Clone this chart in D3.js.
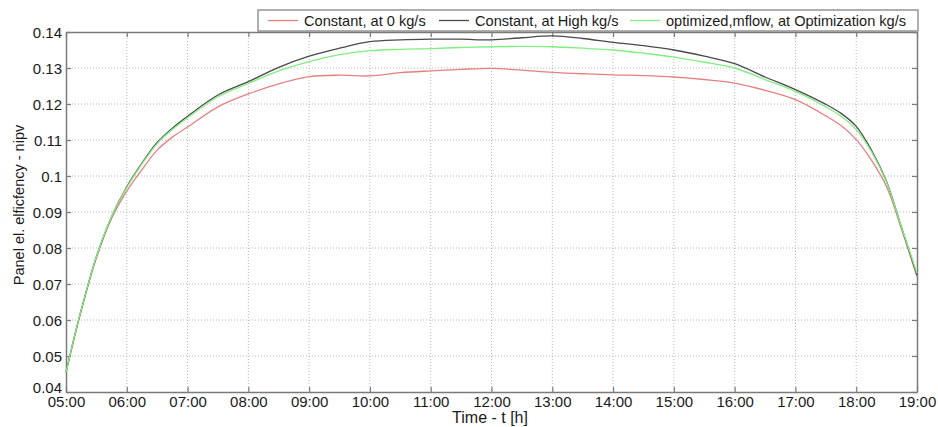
<!DOCTYPE html>
<html>
<head>
<meta charset="utf-8">
<script src="https://cdn.jsdelivr.net/npm/d3@7"></script>
<style>
  body { margin: 0; background: #fff; }
  text { font-family: "Liberation Sans", Arial, sans-serif; }
</style>
</head>
<body>
<div id="graph"></div>
<script>
// hours of the day
let hours = [5, 5.1, 5.25, 5.5, 5.75, 6, 6.25, 6.5, 6.75, 7, 7.5, 8, 8.5, 9, 9.5, 10, 10.5, 11, 11.5,
    12, 12.5, 13, 13.5, 14, 14.5, 15, 15.5, 16, 16.5, 17, 17.5, 17.75, 18, 18.25, 18.5, 18.75, 19];

let constZero = [0.0455, 0.0525, 0.0625, 0.0772, 0.0882, 0.0958, 0.1018, 0.1072, 0.1108, 0.1136, 0.1192, 0.1228,
    0.1256, 0.1276, 0.1280, 0.1278, 0.1287, 0.1292, 0.1296, 0.1299, 0.1294, 0.1288, 0.1284, 0.1281, 0.1279,
    0.1275, 0.1268, 0.1258, 0.1238, 0.1212, 0.1167, 0.1140, 0.1101, 0.1044, 0.0970, 0.0850, 0.0720];

let constHigh = [0.0455, 0.0527, 0.0628, 0.0776, 0.0887, 0.0970, 0.1036, 0.1093, 0.1133, 0.1166, 0.1225, 0.1262,
    0.1302, 0.1333, 0.1355, 0.1373, 0.1378, 0.1380, 0.1380, 0.1378, 0.1384, 0.1389, 0.1382, 0.1371, 0.1362,
    0.1350, 0.1333, 0.1312, 0.1275, 0.1240, 0.1199, 0.1174, 0.1138, 0.1072, 0.0984, 0.0855, 0.0725];

let optimized = [0.0455, 0.0527, 0.0628, 0.0776, 0.0887, 0.0968, 0.1034, 0.1090, 0.1129, 0.1162, 0.1220, 0.1257,
    0.1292, 0.1318, 0.1337, 0.1348, 0.1352, 0.1354, 0.1357, 0.1359, 0.1360, 0.1359, 0.1355, 0.1350, 0.1341,
    0.1330, 0.1316, 0.1300, 0.1268, 0.1235, 0.1192, 0.1166, 0.1129, 0.1068, 0.0982, 0.0855, 0.0730];

let xTicks = d3.range(5, 20);
let yTicks = [0.04, 0.05, 0.06, 0.07, 0.08, 0.09, 0.1, 0.11, 0.12, 0.13, 0.14];

let seriesNames = ["Constant, at 0 kg/s", "Constant, at High kg/s", "optimized,mflow, at Optimization kg/s"];
let seriesColors = ["#e58080", "#4a4a4a", "#80ee80"];
let series = [constZero, constHigh, optimized];

let width = 938, height = 427;
let plotLeft = 66, plotRight = 917, plotTop = 32, plotBottom = 392;

let svg = d3.select("#graph").append("svg")
    .attr("width", width)
    .attr("height", height);

let x = d3.scaleLinear().domain([5, 19]).range([plotLeft, plotRight]);
let y = d3.scaleLinear().domain([0.04, 0.14]).range([plotBottom, plotTop]);

function fmtHour(h) {
    return (h < 10 ? "0" : "") + h + ":00";
}

// grid
let grid = svg.append("g").attr("stroke", "#b8b8b8").attr("stroke-dasharray", "1,2");
grid.selectAll(".vg").data(xTicks.slice(1, -1)).enter().append("line")
    .attr("x1", d => x(d)).attr("x2", d => x(d))
    .attr("y1", plotTop).attr("y2", plotBottom);
grid.selectAll(".hg").data(yTicks.slice(1, -1)).enter().append("line")
    .attr("x1", plotLeft).attr("x2", plotRight)
    .attr("y1", d => y(d)).attr("y2", d => y(d));

// axes with inward ticks
let frameColor = "#7a7a7a";
let xAxis = svg.append("g").attr("transform", `translate(0,${plotBottom})`)
    .call(d3.axisBottom(x).tickValues(xTicks).tickFormat(fmtHour).tickSizeInner(-5).tickSizeOuter(0).tickPadding(6));
let xTop = svg.append("g").attr("transform", `translate(0,${plotTop})`)
    .call(d3.axisTop(x).tickValues(xTicks).tickFormat("").tickSizeInner(-5).tickSizeOuter(0));
let yAxis = svg.append("g").attr("transform", `translate(${plotLeft},0)`)
    .call(d3.axisLeft(y).tickValues(yTicks).tickFormat(d => String(+d.toFixed(2))).tickSizeInner(-5).tickSizeOuter(0).tickPadding(4));
let yRight = svg.append("g").attr("transform", `translate(${plotRight},0)`)
    .call(d3.axisRight(y).tickValues(yTicks).tickFormat("").tickSizeInner(-5).tickSizeOuter(0));

[xAxis, xTop, yAxis, yRight].forEach(a => {
    a.select(".domain").attr("stroke", frameColor).attr("stroke-width", 1.5);
    a.selectAll(".tick line").attr("stroke", frameColor).attr("stroke-width", 1.2);
    a.selectAll("text").attr("fill", "#1a1a1a").attr("font-size", 15)
        .attr("font-family", "Liberation Sans, Arial, sans-serif");
});
xAxis.selectAll("text").attr("dy", "0.62em");
yAxis.selectAll("text").attr("dy", "0.35em");
// the lowest y label sits a little higher, as in the original
yAxis.selectAll(".tick text").filter(d => d === 0.04).attr("dy", "0.05em");

// lines
let line = d3.line()
    .x((d, i) => x(hours[i]))
    .y(d => y(d))
    .curve(d3.curveCatmullRom.alpha(0.5));

svg.selectAll(".series").data(series).enter().append("path")
    .attr("class", "series")
    .attr("fill", "none")
    .attr("stroke", (d, i) => seriesColors[i])
    .attr("stroke-width", 1.3)
    .attr("d", line);

// axis titles
svg.append("text")
    .attr("x", 490).attr("y", 423)
    .attr("text-anchor", "middle")
    .attr("font-size", 16).attr("fill", "#1a1a1a")
    .text("Time - t [h]");

svg.append("text")
    .attr("transform", "translate(24,205) rotate(-90)")
    .attr("text-anchor", "middle")
    .attr("font-size", 14.5).attr("fill", "#1a1a1a")
    .text("Panel el. elficfency - nipv");

// legend
let legend = svg.append("g");
legend.append("rect")
    .attr("x", 258).attr("y", 10)
    .attr("width", 660).attr("height", 21)
    .attr("fill", "#fff").attr("stroke", frameColor).attr("stroke-width", 1.2);

let legendX = [268, 439, 630];
legendX.forEach((lx, i) => {
    legend.append("line")
        .attr("x1", lx).attr("x2", lx + 30)
        .attr("y1", 20.5).attr("y2", 20.5)
        .attr("stroke", seriesColors[i]).attr("stroke-width", 1.3);
    legend.append("text")
        .attr("x", lx + 36).attr("y", 25.5)
        .attr("font-size", 14.6).attr("fill", "#1a1a1a")
        .text(seriesNames[i]);
});
</script>
</body>
</html>
